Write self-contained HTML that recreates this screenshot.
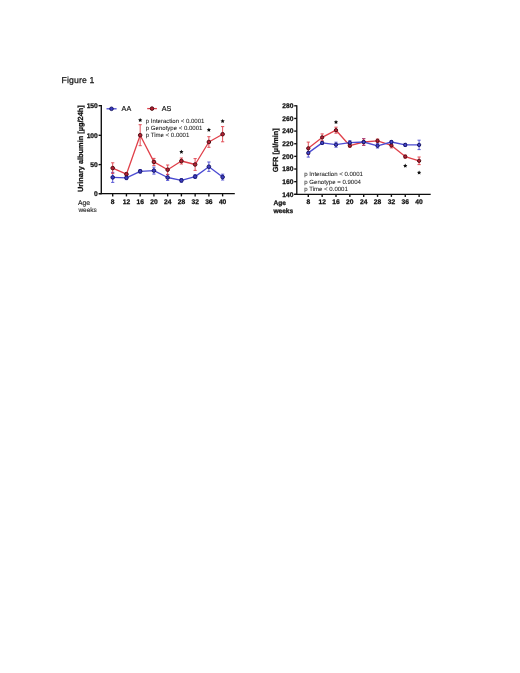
<!DOCTYPE html>
<html><head><meta charset="utf-8"><title>Figure 1</title>
<style>
html,body{margin:0;padding:0;background:#fff;}
body{width:520px;height:673px;overflow:hidden;font-family:"Liberation Sans", sans-serif;}
svg{display:block;will-change:transform;}
svg text{font-family:"Liberation Sans", sans-serif;text-rendering:geometricPrecision;}
</style></head>
<body>
<svg width="520" height="673" viewBox="0 0 520 673">
<defs><filter id="soft" x="0" y="0" width="520" height="673" filterUnits="userSpaceOnUse"><feGaussianBlur stdDeviation="0.35"/></filter></defs>
<rect x="0" y="0" width="520" height="673" fill="#fff"/>
<g filter="url(#soft)">
<text x="61.50" y="83.30" font-size="8.7" font-weight="normal" text-anchor="start" fill="#151515" stroke="#151515" stroke-width="0.25" letter-spacing="0.12">Figure 1</text>
<line x1="101.30" y1="105.00" x2="101.30" y2="194.20" stroke="#111" stroke-width="1.35"/>
<line x1="99.00" y1="193.60" x2="234.80" y2="193.60" stroke="#111" stroke-width="1.35"/>
<line x1="98.60" y1="193.70" x2="101.30" y2="193.70" stroke="#111" stroke-width="1.35"/>
<text x="97.80" y="196.10" font-size="6.7" font-weight="bold" text-anchor="end" fill="#111"  stroke="#111" stroke-width="0.25">0</text>
<line x1="98.60" y1="164.60" x2="101.30" y2="164.60" stroke="#111" stroke-width="1.35"/>
<text x="97.80" y="167.00" font-size="6.7" font-weight="bold" text-anchor="end" fill="#111"  stroke="#111" stroke-width="0.25">50</text>
<line x1="98.60" y1="135.30" x2="101.30" y2="135.30" stroke="#111" stroke-width="1.35"/>
<text x="97.80" y="137.70" font-size="6.7" font-weight="bold" text-anchor="end" fill="#111"  stroke="#111" stroke-width="0.25">100</text>
<line x1="98.60" y1="105.70" x2="101.30" y2="105.70" stroke="#111" stroke-width="1.35"/>
<text x="97.80" y="108.10" font-size="6.7" font-weight="bold" text-anchor="end" fill="#111"  stroke="#111" stroke-width="0.25">150</text>
<line x1="112.70" y1="193.60" x2="112.70" y2="196.40" stroke="#111" stroke-width="1.35"/>
<text x="112.70" y="203.70" font-size="6.7" font-weight="bold" text-anchor="middle" fill="#111"  stroke="#111" stroke-width="0.25">8</text>
<line x1="126.44" y1="193.60" x2="126.44" y2="196.40" stroke="#111" stroke-width="1.35"/>
<text x="126.44" y="203.70" font-size="6.7" font-weight="bold" text-anchor="middle" fill="#111"  stroke="#111" stroke-width="0.25">12</text>
<line x1="140.18" y1="193.60" x2="140.18" y2="196.40" stroke="#111" stroke-width="1.35"/>
<text x="140.18" y="203.70" font-size="6.7" font-weight="bold" text-anchor="middle" fill="#111"  stroke="#111" stroke-width="0.25">16</text>
<line x1="153.92" y1="193.60" x2="153.92" y2="196.40" stroke="#111" stroke-width="1.35"/>
<text x="153.92" y="203.70" font-size="6.7" font-weight="bold" text-anchor="middle" fill="#111"  stroke="#111" stroke-width="0.25">20</text>
<line x1="167.66" y1="193.60" x2="167.66" y2="196.40" stroke="#111" stroke-width="1.35"/>
<text x="167.66" y="203.70" font-size="6.7" font-weight="bold" text-anchor="middle" fill="#111"  stroke="#111" stroke-width="0.25">24</text>
<line x1="181.40" y1="193.60" x2="181.40" y2="196.40" stroke="#111" stroke-width="1.35"/>
<text x="181.40" y="203.70" font-size="6.7" font-weight="bold" text-anchor="middle" fill="#111"  stroke="#111" stroke-width="0.25">28</text>
<line x1="195.14" y1="193.60" x2="195.14" y2="196.40" stroke="#111" stroke-width="1.35"/>
<text x="195.14" y="203.70" font-size="6.7" font-weight="bold" text-anchor="middle" fill="#111"  stroke="#111" stroke-width="0.25">32</text>
<line x1="208.88" y1="193.60" x2="208.88" y2="196.40" stroke="#111" stroke-width="1.35"/>
<text x="208.88" y="203.70" font-size="6.7" font-weight="bold" text-anchor="middle" fill="#111"  stroke="#111" stroke-width="0.25">36</text>
<line x1="222.62" y1="193.60" x2="222.62" y2="196.40" stroke="#111" stroke-width="1.35"/>
<text x="222.62" y="203.70" font-size="6.7" font-weight="bold" text-anchor="middle" fill="#111"  stroke="#111" stroke-width="0.25">40</text>
<text x="78.00" y="204.80" font-size="6.8" font-weight="normal" text-anchor="start" fill="#1a1a1a"  stroke="#1a1a1a" stroke-width="0.12">Age</text>
<text x="78.40" y="212.00" font-size="6.5" font-weight="normal" text-anchor="start" fill="#1a1a1a"  stroke="#1a1a1a" stroke-width="0.1">weeks</text>
<text transform="translate(82.9,148.6) rotate(-90)" font-size="7.4" font-weight="bold" text-anchor="middle" fill="#111" stroke="#111" stroke-width="0.25">Urinary albumin [µg/24h]</text>
<line x1="112.70" y1="172.40" x2="112.70" y2="182.40" stroke="#4c4cd2" stroke-width="0.9"/>
<line x1="111.10" y1="172.40" x2="114.30" y2="172.40" stroke="#4c4cd2" stroke-width="0.9"/>
<line x1="111.10" y1="182.40" x2="114.30" y2="182.40" stroke="#4c4cd2" stroke-width="0.9"/>
<line x1="126.44" y1="176.00" x2="126.44" y2="179.60" stroke="#4c4cd2" stroke-width="0.9"/>
<line x1="124.84" y1="176.00" x2="128.04" y2="176.00" stroke="#4c4cd2" stroke-width="0.9"/>
<line x1="124.84" y1="179.60" x2="128.04" y2="179.60" stroke="#4c4cd2" stroke-width="0.9"/>
<line x1="140.18" y1="169.50" x2="140.18" y2="173.10" stroke="#4c4cd2" stroke-width="0.9"/>
<line x1="138.58" y1="169.50" x2="141.78" y2="169.50" stroke="#4c4cd2" stroke-width="0.9"/>
<line x1="138.58" y1="173.10" x2="141.78" y2="173.10" stroke="#4c4cd2" stroke-width="0.9"/>
<line x1="153.92" y1="167.10" x2="153.92" y2="174.10" stroke="#4c4cd2" stroke-width="0.9"/>
<line x1="152.32" y1="167.10" x2="155.52" y2="167.10" stroke="#4c4cd2" stroke-width="0.9"/>
<line x1="152.32" y1="174.10" x2="155.52" y2="174.10" stroke="#4c4cd2" stroke-width="0.9"/>
<line x1="167.66" y1="174.60" x2="167.66" y2="180.40" stroke="#4c4cd2" stroke-width="0.9"/>
<line x1="166.06" y1="174.60" x2="169.26" y2="174.60" stroke="#4c4cd2" stroke-width="0.9"/>
<line x1="166.06" y1="180.40" x2="169.26" y2="180.40" stroke="#4c4cd2" stroke-width="0.9"/>
<line x1="181.40" y1="178.60" x2="181.40" y2="182.20" stroke="#4c4cd2" stroke-width="0.9"/>
<line x1="179.80" y1="178.60" x2="183.00" y2="178.60" stroke="#4c4cd2" stroke-width="0.9"/>
<line x1="179.80" y1="182.20" x2="183.00" y2="182.20" stroke="#4c4cd2" stroke-width="0.9"/>
<line x1="195.14" y1="174.80" x2="195.14" y2="178.40" stroke="#4c4cd2" stroke-width="0.9"/>
<line x1="193.54" y1="174.80" x2="196.74" y2="174.80" stroke="#4c4cd2" stroke-width="0.9"/>
<line x1="193.54" y1="178.40" x2="196.74" y2="178.40" stroke="#4c4cd2" stroke-width="0.9"/>
<line x1="208.88" y1="162.00" x2="208.88" y2="171.40" stroke="#4c4cd2" stroke-width="0.9"/>
<line x1="207.28" y1="162.00" x2="210.48" y2="162.00" stroke="#4c4cd2" stroke-width="0.9"/>
<line x1="207.28" y1="171.40" x2="210.48" y2="171.40" stroke="#4c4cd2" stroke-width="0.9"/>
<line x1="222.62" y1="174.20" x2="222.62" y2="180.00" stroke="#4c4cd2" stroke-width="0.9"/>
<line x1="221.02" y1="174.20" x2="224.22" y2="174.20" stroke="#4c4cd2" stroke-width="0.9"/>
<line x1="221.02" y1="180.00" x2="224.22" y2="180.00" stroke="#4c4cd2" stroke-width="0.9"/>
<line x1="112.70" y1="162.80" x2="112.70" y2="173.40" stroke="#e0404a" stroke-width="0.9"/>
<line x1="111.10" y1="162.80" x2="114.30" y2="162.80" stroke="#e0404a" stroke-width="0.9"/>
<line x1="111.10" y1="173.40" x2="114.30" y2="173.40" stroke="#e0404a" stroke-width="0.9"/>
<line x1="126.44" y1="172.70" x2="126.44" y2="175.70" stroke="#e0404a" stroke-width="0.9"/>
<line x1="124.84" y1="172.70" x2="128.04" y2="172.70" stroke="#e0404a" stroke-width="0.9"/>
<line x1="124.84" y1="175.70" x2="128.04" y2="175.70" stroke="#e0404a" stroke-width="0.9"/>
<line x1="140.18" y1="124.70" x2="140.18" y2="145.70" stroke="#e0404a" stroke-width="0.9"/>
<line x1="138.58" y1="124.70" x2="141.78" y2="124.70" stroke="#e0404a" stroke-width="0.9"/>
<line x1="138.58" y1="145.70" x2="141.78" y2="145.70" stroke="#e0404a" stroke-width="0.9"/>
<line x1="153.92" y1="158.40" x2="153.92" y2="165.40" stroke="#e0404a" stroke-width="0.9"/>
<line x1="152.32" y1="158.40" x2="155.52" y2="158.40" stroke="#e0404a" stroke-width="0.9"/>
<line x1="152.32" y1="165.40" x2="155.52" y2="165.40" stroke="#e0404a" stroke-width="0.9"/>
<line x1="167.66" y1="165.00" x2="167.66" y2="174.40" stroke="#e0404a" stroke-width="0.9"/>
<line x1="166.06" y1="165.00" x2="169.26" y2="165.00" stroke="#e0404a" stroke-width="0.9"/>
<line x1="166.06" y1="174.40" x2="169.26" y2="174.40" stroke="#e0404a" stroke-width="0.9"/>
<line x1="181.40" y1="158.00" x2="181.40" y2="164.00" stroke="#e0404a" stroke-width="0.9"/>
<line x1="179.80" y1="158.00" x2="183.00" y2="158.00" stroke="#e0404a" stroke-width="0.9"/>
<line x1="179.80" y1="164.00" x2="183.00" y2="164.00" stroke="#e0404a" stroke-width="0.9"/>
<line x1="195.14" y1="158.60" x2="195.14" y2="170.40" stroke="#e0404a" stroke-width="0.9"/>
<line x1="193.54" y1="158.60" x2="196.74" y2="158.60" stroke="#e0404a" stroke-width="0.9"/>
<line x1="193.54" y1="170.40" x2="196.74" y2="170.40" stroke="#e0404a" stroke-width="0.9"/>
<line x1="208.88" y1="136.70" x2="208.88" y2="147.30" stroke="#e0404a" stroke-width="0.9"/>
<line x1="207.28" y1="136.70" x2="210.48" y2="136.70" stroke="#e0404a" stroke-width="0.9"/>
<line x1="207.28" y1="147.30" x2="210.48" y2="147.30" stroke="#e0404a" stroke-width="0.9"/>
<line x1="222.62" y1="126.60" x2="222.62" y2="141.80" stroke="#e0404a" stroke-width="0.9"/>
<line x1="221.02" y1="126.60" x2="224.22" y2="126.60" stroke="#e0404a" stroke-width="0.9"/>
<line x1="221.02" y1="141.80" x2="224.22" y2="141.80" stroke="#e0404a" stroke-width="0.9"/>
<polyline points="112.70,168.10 126.44,174.20 140.18,135.20 153.92,161.90 167.66,169.70 181.40,161.00 195.14,164.50 208.88,142.00 222.62,134.20" fill="none" stroke="#e0404a" stroke-width="1.3" stroke-linejoin="round"/>
<circle cx="112.70" cy="168.10" r="1.8" fill="#b42036" stroke="#4c0810" stroke-width="0.95"/>
<circle cx="126.44" cy="174.20" r="1.8" fill="#b42036" stroke="#4c0810" stroke-width="0.95"/>
<circle cx="140.18" cy="135.20" r="1.8" fill="#b42036" stroke="#4c0810" stroke-width="0.95"/>
<circle cx="153.92" cy="161.90" r="1.8" fill="#b42036" stroke="#4c0810" stroke-width="0.95"/>
<circle cx="167.66" cy="169.70" r="1.8" fill="#b42036" stroke="#4c0810" stroke-width="0.95"/>
<circle cx="181.40" cy="161.00" r="1.8" fill="#b42036" stroke="#4c0810" stroke-width="0.95"/>
<circle cx="195.14" cy="164.50" r="1.8" fill="#b42036" stroke="#4c0810" stroke-width="0.95"/>
<circle cx="208.88" cy="142.00" r="1.8" fill="#b42036" stroke="#4c0810" stroke-width="0.95"/>
<circle cx="222.62" cy="134.20" r="1.8" fill="#b42036" stroke="#4c0810" stroke-width="0.95"/>
<polyline points="112.70,177.40 126.44,177.80 140.18,171.30 153.92,170.60 167.66,177.50 181.40,180.40 195.14,176.60 208.88,166.70 222.62,177.10" fill="none" stroke="#4c4cd2" stroke-width="1.3" stroke-linejoin="round"/>
<circle cx="112.70" cy="177.40" r="1.8" fill="#3d3dc4" stroke="#121260" stroke-width="0.95"/>
<circle cx="126.44" cy="177.80" r="1.8" fill="#3d3dc4" stroke="#121260" stroke-width="0.95"/>
<circle cx="140.18" cy="171.30" r="1.8" fill="#3d3dc4" stroke="#121260" stroke-width="0.95"/>
<circle cx="153.92" cy="170.60" r="1.8" fill="#3d3dc4" stroke="#121260" stroke-width="0.95"/>
<circle cx="167.66" cy="177.50" r="1.8" fill="#3d3dc4" stroke="#121260" stroke-width="0.95"/>
<circle cx="181.40" cy="180.40" r="1.8" fill="#3d3dc4" stroke="#121260" stroke-width="0.95"/>
<circle cx="195.14" cy="176.60" r="1.8" fill="#3d3dc4" stroke="#121260" stroke-width="0.95"/>
<circle cx="208.88" cy="166.70" r="1.8" fill="#3d3dc4" stroke="#121260" stroke-width="0.95"/>
<circle cx="222.62" cy="177.10" r="1.8" fill="#3d3dc4" stroke="#121260" stroke-width="0.95"/>
<polygon points="140.18,118.00 140.83,119.31 142.27,119.52 141.23,120.54 141.47,121.98 140.18,121.30 138.89,121.98 139.13,120.54 138.09,119.52 139.53,119.31" fill="#111"/>
<polygon points="181.40,149.80 182.05,151.11 183.49,151.32 182.45,152.34 182.69,153.78 181.40,153.10 180.11,153.78 180.35,152.34 179.31,151.32 180.75,151.11" fill="#111"/>
<polygon points="208.88,127.70 209.53,129.01 210.97,129.22 209.93,130.24 210.17,131.68 208.88,131.00 207.59,131.68 207.83,130.24 206.79,129.22 208.23,129.01" fill="#111"/>
<polygon points="222.62,119.00 223.27,120.31 224.71,120.52 223.67,121.54 223.91,122.98 222.62,122.30 221.33,122.98 221.57,121.54 220.53,120.52 221.97,120.31" fill="#111"/>
<line x1="106.50" y1="108.80" x2="116.60" y2="108.80" stroke="#4c4cd2" stroke-width="1.3"/>
<circle cx="111.50" cy="108.80" r="1.8" fill="#3d3dc4" stroke="#121260" stroke-width="0.95"/>
<text x="121.60" y="111.30" font-size="7.2" font-weight="normal" text-anchor="start" fill="#111"  stroke="#111" stroke-width="0.18">AA</text>
<line x1="147.20" y1="108.60" x2="156.90" y2="108.60" stroke="#e0404a" stroke-width="1.3"/>
<circle cx="152.00" cy="108.60" r="1.8" fill="#b42036" stroke="#4c0810" stroke-width="0.95"/>
<text x="161.80" y="111.10" font-size="7.2" font-weight="normal" text-anchor="start" fill="#111"  stroke="#111" stroke-width="0.18">AS</text>
<text x="145.80" y="123.40" font-size="6.05" font-weight="normal" text-anchor="start" fill="#222"  stroke="#222" stroke-width="0.06">p Interaction &lt; 0.0001</text>
<text x="145.80" y="130.10" font-size="6.05" font-weight="normal" text-anchor="start" fill="#222"  stroke="#222" stroke-width="0.06">p Genotype &lt; 0.0001</text>
<text x="145.80" y="136.60" font-size="6.05" font-weight="normal" text-anchor="start" fill="#222"  stroke="#222" stroke-width="0.06">p Time &lt; 0.0001</text>
<line x1="296.80" y1="105.20" x2="296.80" y2="194.90" stroke="#111" stroke-width="1.35"/>
<line x1="294.30" y1="194.30" x2="430.70" y2="194.30" stroke="#111" stroke-width="1.35"/>
<line x1="294.20" y1="194.30" x2="296.80" y2="194.30" stroke="#111" stroke-width="1.35"/>
<text x="293.40" y="196.70" font-size="6.7" font-weight="bold" text-anchor="end" fill="#111"  stroke="#111" stroke-width="0.25">140</text>
<line x1="294.20" y1="181.66" x2="296.80" y2="181.66" stroke="#111" stroke-width="1.35"/>
<text x="293.40" y="184.06" font-size="6.7" font-weight="bold" text-anchor="end" fill="#111"  stroke="#111" stroke-width="0.25">160</text>
<line x1="294.20" y1="169.01" x2="296.80" y2="169.01" stroke="#111" stroke-width="1.35"/>
<text x="293.40" y="171.41" font-size="6.7" font-weight="bold" text-anchor="end" fill="#111"  stroke="#111" stroke-width="0.25">180</text>
<line x1="294.20" y1="156.37" x2="296.80" y2="156.37" stroke="#111" stroke-width="1.35"/>
<text x="293.40" y="158.77" font-size="6.7" font-weight="bold" text-anchor="end" fill="#111"  stroke="#111" stroke-width="0.25">200</text>
<line x1="294.20" y1="143.73" x2="296.80" y2="143.73" stroke="#111" stroke-width="1.35"/>
<text x="293.40" y="146.13" font-size="6.7" font-weight="bold" text-anchor="end" fill="#111"  stroke="#111" stroke-width="0.25">220</text>
<line x1="294.20" y1="131.09" x2="296.80" y2="131.09" stroke="#111" stroke-width="1.35"/>
<text x="293.40" y="133.49" font-size="6.7" font-weight="bold" text-anchor="end" fill="#111"  stroke="#111" stroke-width="0.25">240</text>
<line x1="294.20" y1="118.44" x2="296.80" y2="118.44" stroke="#111" stroke-width="1.35"/>
<text x="293.40" y="120.84" font-size="6.7" font-weight="bold" text-anchor="end" fill="#111"  stroke="#111" stroke-width="0.25">260</text>
<line x1="294.20" y1="105.80" x2="296.80" y2="105.80" stroke="#111" stroke-width="1.35"/>
<text x="293.40" y="108.20" font-size="6.7" font-weight="bold" text-anchor="end" fill="#111"  stroke="#111" stroke-width="0.25">280</text>
<line x1="308.30" y1="194.30" x2="308.30" y2="196.90" stroke="#111" stroke-width="1.35"/>
<text x="308.30" y="204.20" font-size="6.7" font-weight="bold" text-anchor="middle" fill="#111"  stroke="#111" stroke-width="0.25">8</text>
<line x1="322.15" y1="194.30" x2="322.15" y2="196.90" stroke="#111" stroke-width="1.35"/>
<text x="322.15" y="204.20" font-size="6.7" font-weight="bold" text-anchor="middle" fill="#111"  stroke="#111" stroke-width="0.25">12</text>
<line x1="336.00" y1="194.30" x2="336.00" y2="196.90" stroke="#111" stroke-width="1.35"/>
<text x="336.00" y="204.20" font-size="6.7" font-weight="bold" text-anchor="middle" fill="#111"  stroke="#111" stroke-width="0.25">16</text>
<line x1="349.85" y1="194.30" x2="349.85" y2="196.90" stroke="#111" stroke-width="1.35"/>
<text x="349.85" y="204.20" font-size="6.7" font-weight="bold" text-anchor="middle" fill="#111"  stroke="#111" stroke-width="0.25">20</text>
<line x1="363.70" y1="194.30" x2="363.70" y2="196.90" stroke="#111" stroke-width="1.35"/>
<text x="363.70" y="204.20" font-size="6.7" font-weight="bold" text-anchor="middle" fill="#111"  stroke="#111" stroke-width="0.25">24</text>
<line x1="377.55" y1="194.30" x2="377.55" y2="196.90" stroke="#111" stroke-width="1.35"/>
<text x="377.55" y="204.20" font-size="6.7" font-weight="bold" text-anchor="middle" fill="#111"  stroke="#111" stroke-width="0.25">28</text>
<line x1="391.40" y1="194.30" x2="391.40" y2="196.90" stroke="#111" stroke-width="1.35"/>
<text x="391.40" y="204.20" font-size="6.7" font-weight="bold" text-anchor="middle" fill="#111"  stroke="#111" stroke-width="0.25">32</text>
<line x1="405.25" y1="194.30" x2="405.25" y2="196.90" stroke="#111" stroke-width="1.35"/>
<text x="405.25" y="204.20" font-size="6.7" font-weight="bold" text-anchor="middle" fill="#111"  stroke="#111" stroke-width="0.25">36</text>
<line x1="419.10" y1="194.30" x2="419.10" y2="196.90" stroke="#111" stroke-width="1.35"/>
<text x="419.10" y="204.20" font-size="6.7" font-weight="bold" text-anchor="middle" fill="#111"  stroke="#111" stroke-width="0.25">40</text>
<text x="273.40" y="205.20" font-size="6.6" font-weight="bold" text-anchor="start" fill="#111"  stroke="#111" stroke-width="0.25">Age</text>
<text x="273.40" y="212.80" font-size="6.6" font-weight="bold" text-anchor="start" fill="#111"  stroke="#111" stroke-width="0.25">weeks</text>
<text transform="translate(277.6,150.2) rotate(-90)" font-size="7.4" font-weight="bold" text-anchor="middle" fill="#111" stroke="#111" stroke-width="0.25">GFR [µl/min]</text>
<line x1="308.30" y1="148.70" x2="308.30" y2="157.10" stroke="#4c4cd2" stroke-width="0.9"/>
<line x1="306.70" y1="148.70" x2="309.90" y2="148.70" stroke="#4c4cd2" stroke-width="0.9"/>
<line x1="306.70" y1="157.10" x2="309.90" y2="157.10" stroke="#4c4cd2" stroke-width="0.9"/>
<line x1="322.15" y1="141.40" x2="322.15" y2="144.40" stroke="#4c4cd2" stroke-width="0.9"/>
<line x1="320.55" y1="141.40" x2="323.75" y2="141.40" stroke="#4c4cd2" stroke-width="0.9"/>
<line x1="320.55" y1="144.40" x2="323.75" y2="144.40" stroke="#4c4cd2" stroke-width="0.9"/>
<line x1="336.00" y1="142.20" x2="336.00" y2="147.20" stroke="#4c4cd2" stroke-width="0.9"/>
<line x1="334.40" y1="142.20" x2="337.60" y2="142.20" stroke="#4c4cd2" stroke-width="0.9"/>
<line x1="334.40" y1="147.20" x2="337.60" y2="147.20" stroke="#4c4cd2" stroke-width="0.9"/>
<line x1="349.85" y1="140.70" x2="349.85" y2="144.70" stroke="#4c4cd2" stroke-width="0.9"/>
<line x1="348.25" y1="140.70" x2="351.45" y2="140.70" stroke="#4c4cd2" stroke-width="0.9"/>
<line x1="348.25" y1="144.70" x2="351.45" y2="144.70" stroke="#4c4cd2" stroke-width="0.9"/>
<line x1="363.70" y1="138.50" x2="363.70" y2="145.50" stroke="#4c4cd2" stroke-width="0.9"/>
<line x1="362.10" y1="138.50" x2="365.30" y2="138.50" stroke="#4c4cd2" stroke-width="0.9"/>
<line x1="362.10" y1="145.50" x2="365.30" y2="145.50" stroke="#4c4cd2" stroke-width="0.9"/>
<line x1="377.55" y1="143.60" x2="377.55" y2="148.00" stroke="#4c4cd2" stroke-width="0.9"/>
<line x1="375.95" y1="143.60" x2="379.15" y2="143.60" stroke="#4c4cd2" stroke-width="0.9"/>
<line x1="375.95" y1="148.00" x2="379.15" y2="148.00" stroke="#4c4cd2" stroke-width="0.9"/>
<line x1="391.40" y1="140.50" x2="391.40" y2="143.50" stroke="#4c4cd2" stroke-width="0.9"/>
<line x1="389.80" y1="140.50" x2="393.00" y2="140.50" stroke="#4c4cd2" stroke-width="0.9"/>
<line x1="389.80" y1="143.50" x2="393.00" y2="143.50" stroke="#4c4cd2" stroke-width="0.9"/>
<line x1="405.25" y1="143.40" x2="405.25" y2="146.40" stroke="#4c4cd2" stroke-width="0.9"/>
<line x1="403.65" y1="143.40" x2="406.85" y2="143.40" stroke="#4c4cd2" stroke-width="0.9"/>
<line x1="403.65" y1="146.40" x2="406.85" y2="146.40" stroke="#4c4cd2" stroke-width="0.9"/>
<line x1="419.10" y1="140.20" x2="419.10" y2="149.60" stroke="#4c4cd2" stroke-width="0.9"/>
<line x1="417.50" y1="140.20" x2="420.70" y2="140.20" stroke="#4c4cd2" stroke-width="0.9"/>
<line x1="417.50" y1="149.60" x2="420.70" y2="149.60" stroke="#4c4cd2" stroke-width="0.9"/>
<line x1="308.30" y1="142.10" x2="308.30" y2="154.50" stroke="#e0404a" stroke-width="0.9"/>
<line x1="306.70" y1="142.10" x2="309.90" y2="142.10" stroke="#e0404a" stroke-width="0.9"/>
<line x1="306.70" y1="154.50" x2="309.90" y2="154.50" stroke="#e0404a" stroke-width="0.9"/>
<line x1="322.15" y1="133.90" x2="322.15" y2="140.90" stroke="#e0404a" stroke-width="0.9"/>
<line x1="320.55" y1="133.90" x2="323.75" y2="133.90" stroke="#e0404a" stroke-width="0.9"/>
<line x1="320.55" y1="140.90" x2="323.75" y2="140.90" stroke="#e0404a" stroke-width="0.9"/>
<line x1="336.00" y1="127.20" x2="336.00" y2="133.20" stroke="#e0404a" stroke-width="0.9"/>
<line x1="334.40" y1="127.20" x2="337.60" y2="127.20" stroke="#e0404a" stroke-width="0.9"/>
<line x1="334.40" y1="133.20" x2="337.60" y2="133.20" stroke="#e0404a" stroke-width="0.9"/>
<line x1="349.85" y1="144.20" x2="349.85" y2="147.20" stroke="#e0404a" stroke-width="0.9"/>
<line x1="348.25" y1="144.20" x2="351.45" y2="144.20" stroke="#e0404a" stroke-width="0.9"/>
<line x1="348.25" y1="147.20" x2="351.45" y2="147.20" stroke="#e0404a" stroke-width="0.9"/>
<line x1="363.70" y1="138.80" x2="363.70" y2="145.20" stroke="#e0404a" stroke-width="0.9"/>
<line x1="362.10" y1="138.80" x2="365.30" y2="138.80" stroke="#e0404a" stroke-width="0.9"/>
<line x1="362.10" y1="145.20" x2="365.30" y2="145.20" stroke="#e0404a" stroke-width="0.9"/>
<line x1="377.55" y1="139.00" x2="377.55" y2="142.60" stroke="#e0404a" stroke-width="0.9"/>
<line x1="375.95" y1="139.00" x2="379.15" y2="139.00" stroke="#e0404a" stroke-width="0.9"/>
<line x1="375.95" y1="142.60" x2="379.15" y2="142.60" stroke="#e0404a" stroke-width="0.9"/>
<line x1="391.40" y1="142.90" x2="391.40" y2="147.90" stroke="#e0404a" stroke-width="0.9"/>
<line x1="389.80" y1="142.90" x2="393.00" y2="142.90" stroke="#e0404a" stroke-width="0.9"/>
<line x1="389.80" y1="147.90" x2="393.00" y2="147.90" stroke="#e0404a" stroke-width="0.9"/>
<line x1="405.25" y1="155.10" x2="405.25" y2="158.10" stroke="#e0404a" stroke-width="0.9"/>
<line x1="403.65" y1="155.10" x2="406.85" y2="155.10" stroke="#e0404a" stroke-width="0.9"/>
<line x1="403.65" y1="158.10" x2="406.85" y2="158.10" stroke="#e0404a" stroke-width="0.9"/>
<line x1="419.10" y1="157.00" x2="419.10" y2="164.60" stroke="#e0404a" stroke-width="0.9"/>
<line x1="417.50" y1="157.00" x2="420.70" y2="157.00" stroke="#e0404a" stroke-width="0.9"/>
<line x1="417.50" y1="164.60" x2="420.70" y2="164.60" stroke="#e0404a" stroke-width="0.9"/>
<polyline points="308.30,148.30 322.15,137.40 336.00,130.20 349.85,145.70 363.70,142.00 377.55,140.80 391.40,145.40 405.25,156.60 419.10,160.80" fill="none" stroke="#e0404a" stroke-width="1.3" stroke-linejoin="round"/>
<circle cx="308.30" cy="148.30" r="1.65" fill="#b42036" stroke="#4c0810" stroke-width="0.95"/>
<circle cx="322.15" cy="137.40" r="1.65" fill="#b42036" stroke="#4c0810" stroke-width="0.95"/>
<circle cx="336.00" cy="130.20" r="1.65" fill="#b42036" stroke="#4c0810" stroke-width="0.95"/>
<circle cx="349.85" cy="145.70" r="1.65" fill="#b42036" stroke="#4c0810" stroke-width="0.95"/>
<circle cx="363.70" cy="142.00" r="1.65" fill="#b42036" stroke="#4c0810" stroke-width="0.95"/>
<circle cx="377.55" cy="140.80" r="1.65" fill="#b42036" stroke="#4c0810" stroke-width="0.95"/>
<circle cx="391.40" cy="145.40" r="1.65" fill="#b42036" stroke="#4c0810" stroke-width="0.95"/>
<circle cx="405.25" cy="156.60" r="1.65" fill="#b42036" stroke="#4c0810" stroke-width="0.95"/>
<circle cx="419.10" cy="160.80" r="1.65" fill="#b42036" stroke="#4c0810" stroke-width="0.95"/>
<polyline points="308.30,152.90 322.15,142.90 336.00,144.70 349.85,142.70 363.70,142.00 377.55,145.80 391.40,142.00 405.25,144.90 419.10,144.90" fill="none" stroke="#4c4cd2" stroke-width="1.3" stroke-linejoin="round"/>
<circle cx="308.30" cy="152.90" r="1.65" fill="#4444cc" stroke="#121260" stroke-width="0.95"/>
<circle cx="322.15" cy="142.90" r="1.65" fill="#4444cc" stroke="#121260" stroke-width="0.95"/>
<circle cx="336.00" cy="144.70" r="1.65" fill="#4444cc" stroke="#121260" stroke-width="0.95"/>
<circle cx="349.85" cy="142.70" r="1.65" fill="#4444cc" stroke="#121260" stroke-width="0.95"/>
<circle cx="363.70" cy="142.00" r="1.65" fill="#4444cc" stroke="#121260" stroke-width="0.95"/>
<circle cx="377.55" cy="145.80" r="1.65" fill="#4444cc" stroke="#121260" stroke-width="0.95"/>
<circle cx="391.40" cy="142.00" r="1.65" fill="#4444cc" stroke="#121260" stroke-width="0.95"/>
<circle cx="405.25" cy="144.90" r="1.65" fill="#4444cc" stroke="#121260" stroke-width="0.95"/>
<circle cx="419.10" cy="144.90" r="1.65" fill="#4444cc" stroke="#121260" stroke-width="0.95"/>
<polygon points="336.00,119.90 336.65,121.21 338.09,121.42 337.05,122.44 337.29,123.88 336.00,123.20 334.71,123.88 334.95,122.44 333.91,121.42 335.35,121.21" fill="#111"/>
<polygon points="405.25,163.60 405.90,164.91 407.34,165.12 406.30,166.14 406.54,167.58 405.25,166.90 403.96,167.58 404.20,166.14 403.16,165.12 404.60,164.91" fill="#111"/>
<polygon points="419.10,170.40 419.75,171.71 421.19,171.92 420.15,172.94 420.39,174.38 419.10,173.70 417.81,174.38 418.05,172.94 417.01,171.92 418.45,171.71" fill="#111"/>
<text x="304.30" y="176.30" font-size="6.05" font-weight="normal" text-anchor="start" fill="#222"  stroke="#222" stroke-width="0.06">p Interaction &lt; 0.0001</text>
<text x="304.30" y="183.50" font-size="6.05" font-weight="normal" text-anchor="start" fill="#222"  stroke="#222" stroke-width="0.06">p Genotype = 0.9004</text>
<text x="304.30" y="190.60" font-size="6.05" font-weight="normal" text-anchor="start" fill="#222"  stroke="#222" stroke-width="0.06">p Time &lt; 0.0001</text>
</g>
</svg>
</body></html>
